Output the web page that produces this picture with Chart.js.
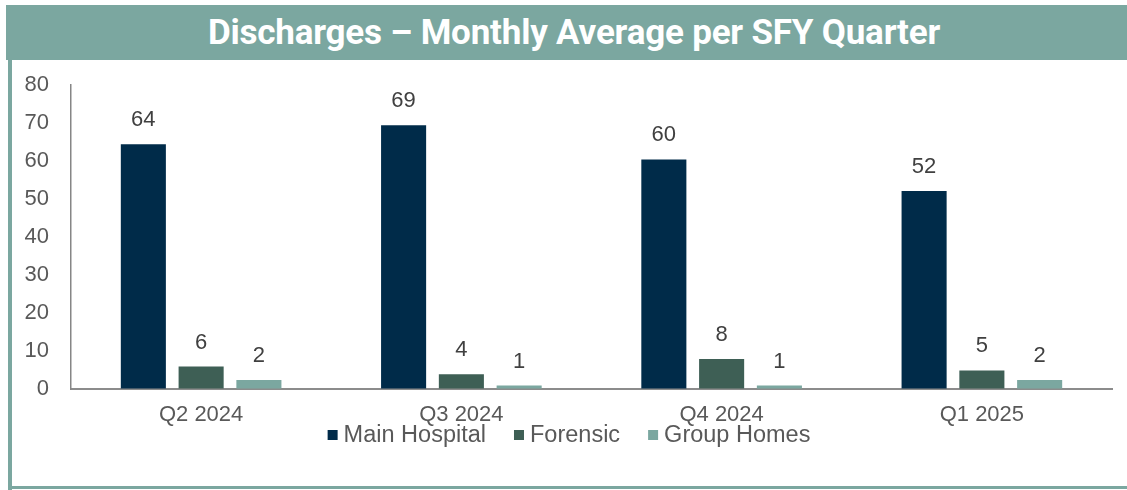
<!DOCTYPE html>
<html><head><meta charset="utf-8">
<script src="https://cdn.jsdelivr.net/npm/chart.js@4"></script>
<style>
body{margin:0;background:#fff;width:1127px;height:490px;overflow:hidden;position:relative;}
#banner{position:absolute;left:6px;top:5px;width:1121px;height:55px;box-sizing:border-box;padding-left:15px;background:#7ba7a0;color:#fff;font-family:Roboto,"Liberation Sans",sans-serif;font-weight:700;font-size:35px;line-height:55px;text-align:center;letter-spacing:-0.2px}
#lb{position:absolute;left:8px;top:60px;width:4px;height:430px;background:#7ba7a0}
#bb{position:absolute;left:8px;top:486px;width:1119px;height:3px;background:#7ba7a0}
#wrap{position:absolute;left:0;top:0;width:1127px;height:490px}
</style></head>
<body>
<div id="banner">Discharges – Monthly Average per SFY Quarter</div>
<div id="lb"></div>
<div id="bb"></div>
<div id="wrap"><canvas id="c" width="1127" height="490"></canvas></div>
<script>
const categories = ["Q2 2024", "Q3 2024", "Q4 2024", "Q1 2025"];
const mainHospital = [64.4, 69.4, 60.4, 52.1];
const forensic = [5.9, 3.9, 7.9, 4.9];
const groupHomes = [2.4, 0.9, 0.9, 2.4];
const seriesNames = ["Main Hospital", "Forensic", "Group Homes"];
const yTicks = [0, 10, 20, 30, 40, 50, 60, 70, 80];

const colors = ["#002b49", "#3e5f55", "#7ba7a0"];
const FONT = '"Liberation Sans", Arial, sans-serif';

const labelPlugin = {
  id: 'labels',
  afterDatasetsDraw(chart) {
    const ctx = chart.ctx;
    ctx.save();
    ctx.font = '22px ' + FONT;
    ctx.fillStyle = '#404040';
    ctx.textAlign = 'center';
    ctx.textBaseline = 'alphabetic';
    chart.data.datasets.forEach((ds, i) => {
      chart.getDatasetMeta(i).data.forEach((bar, j) => {
        ctx.fillText(String(Math.round(ds.data[j])), bar.x, bar.y - 18);
      });
    });
    // legend
    ctx.font = '23.5px ' + FONT;
    ctx.textAlign = 'left';
    ctx.textBaseline = 'middle';
    const mk = 10, gap = 6, spacing = 28;
    const widths = chart.data.datasets.map(d => ctx.measureText(d.label).width);
    let total = widths.reduce((a, w) => a + mk + gap + w, 0) + spacing * (widths.length - 1);
    let x = 569 - total / 2;
    const y = 435;
    chart.data.datasets.forEach((d, i) => {
      ctx.fillStyle = d.backgroundColor;
      ctx.fillRect(x, y - mk / 2, mk, mk);
      ctx.fillStyle = '#595959';
      ctx.fillText(d.label, x + mk + gap, y + 1);
      x += mk + gap + widths[i] + spacing;
    });
    ctx.restore();
  }
};

new Chart(document.getElementById('c'), {
  type: 'bar',
  data: {
    labels: categories,
    datasets: [
      { label: seriesNames[0], data: mainHospital, backgroundColor: colors[0] },
      { label: seriesNames[1], data: forensic, backgroundColor: colors[1] },
      { label: seriesNames[2], data: groupHomes, backgroundColor: colors[2] }
    ]
  },
  options: {
    responsive: false,
    animation: false,
    events: [],
    layout: { padding: { top: 85, right: 15, left: 0, bottom: 0 } },
    datasets: { bar: { categoryPercentage: 0.666, barPercentage: 0.78 } },
    plugins: { legend: { display: false }, tooltip: { enabled: false } },
    scales: {
      x: {
        grid: { display: true, color: 'transparent', drawTicks: false },
        border: { display: true, color: '#8c8c8c', width: 2 },
        ticks: { color: '#595959', font: { family: FONT, size: 22 }, padding: 13, maxRotation: 0 },
        afterFit(s) { s.height = 101; }
      },
      y: {
        min: 0, max: 80,
        grid: { display: true, color: 'transparent', drawTicks: false },
        border: { display: true, color: '#868686', width: 1.5 },
        ticks: { color: '#595959', font: { family: FONT, size: 22 }, padding: 22,
          callback: (v) => yTicks.includes(v) ? String(v) : null, stepSize: 10 },
        afterFit(s) { s.width = 71; }
      }
    }
  },
  plugins: [labelPlugin]
});
</script>
</body></html>
